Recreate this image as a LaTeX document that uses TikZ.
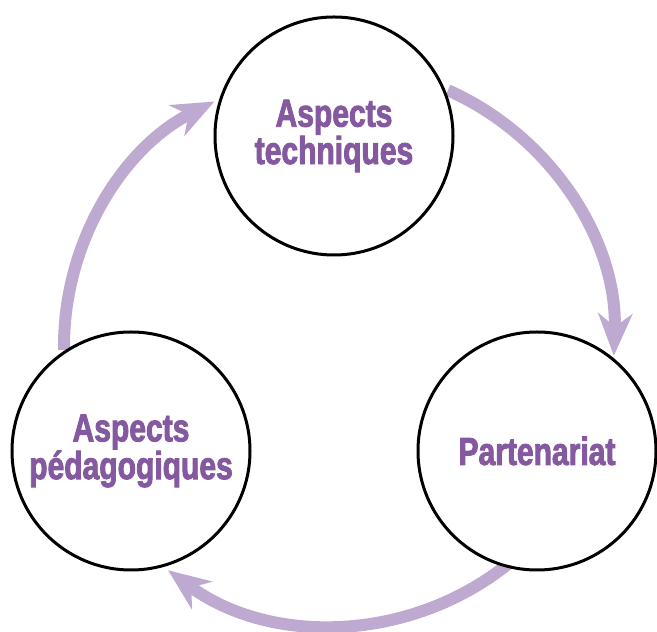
\documentclass[tikz,border=0pt]{standalone}
\usepackage{fontspec}
\newfontfamily\lab[FakeStretch=0.77,FakeBold=2.2]{Liberation Sans}
\usetikzlibrary{arrows.meta,calc}
\definecolor{arccol}{RGB}{190,170,208}
\definecolor{txtcol}{RGB}{133,89,159}
\tikzset{
  stage/.style={circle, draw=black, line width=3pt, fill=white, minimum size=238pt,
    inner sep=0pt, align=center, text=txtcol,
    font=\lab\bfseries\fontsize{39}{35}\selectfont},
  cyc/.style={draw=arccol, line width=12pt,
    -{Stealth[length=42pt,width=34pt,inset=13pt]}},
}
\begin{document}
\begin{tikzpicture}[x=1pt,y=1pt]
\useasboundingbox (0,0) rectangle (657,632);
\coordinate (C) at (334,286);
\coordinate (C3) at (340,286);
\coordinate (s1) at ($(C)+(66:280pt)$);
\coordinate (s2) at ($(C)+(-51:279pt)$);
\coordinate (s3) at ($(C3)+(180.8:276pt)$);
\draw[cyc] (s1) arc[start angle=66, end angle=-2, radius=280pt];
\draw[cyc] (s2) arc[start angle=-51, end angle=-126.5, radius=279pt];
\draw[cyc] (s3) arc[start angle=180.8, end angle=116.8, radius=274pt];
\node[stage] (tech) at (334,496) {Aspects\\techniques};
\node[stage] (peda) at (131,181) {Aspects\\pédagogiques};
\node[stage] (part) at (537,181) {Partenariat};
\end{tikzpicture}
\end{document}
